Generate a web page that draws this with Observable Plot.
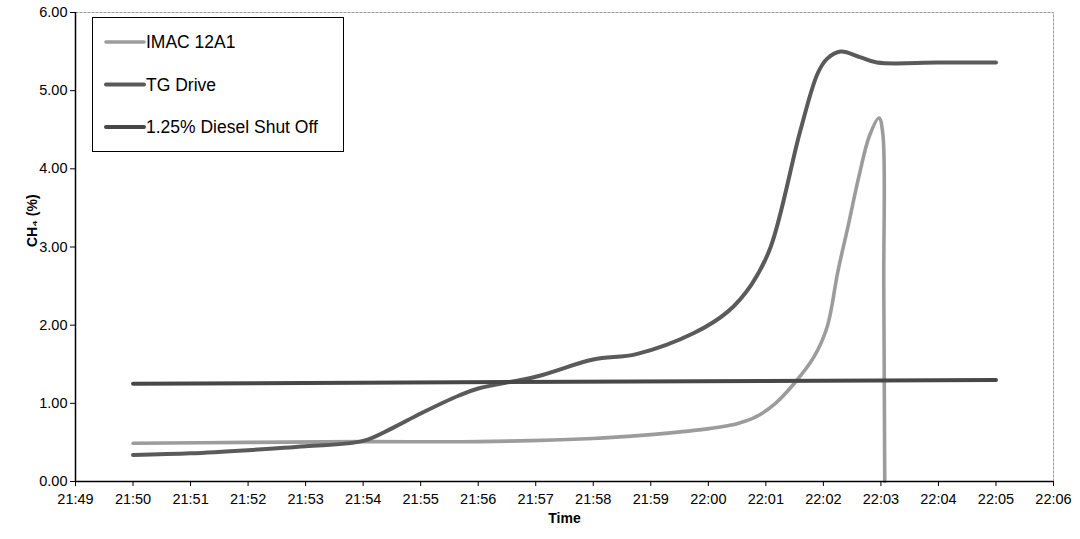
<!DOCTYPE html>
<html>
<head>
<meta charset="utf-8">
<script src="https://cdn.jsdelivr.net/npm/d3@7"></script>
<script src="https://cdn.jsdelivr.net/npm/@observablehq/plot@0.6"></script>
<style>
  html, body { margin: 0; padding: 0; background: #fff; }
  #chart svg { display: block; }
</style>
</head>
<body>
<div id="chart"></div>
<script>
// ---- data ----
const seriesNames = ["IMAC 12A1", "TG Drive", "1.25% Diesel Shut Off"];
const xTickLabels = ["21:49","21:50","21:51","21:52","21:53","21:54","21:55","21:56","21:57",
  "21:58","21:59","22:00","22:01","22:02","22:03","22:04","22:05","22:06"];
const yTicks = [0, 1, 2, 3, 4, 5, 6];

const imacTimes = ["21:50:00","21:52:00","21:54:00","21:56:00","21:58:00","21:58:50","21:59:50",
  "22:00:30","22:00:50","22:01:10","22:01:30","22:01:50","22:02:04","22:02:15","22:02:26",
  "22:02:37","22:02:48","22:02:58","22:03:02","22:03:03","22:03:04"];
const imacValues = [0.49,0.50,0.51,0.51,0.55,0.59,0.66,0.74,0.83,1.00,1.26,1.59,1.98,2.68,3.28,
  3.90,4.42,4.65,4.45,2.5,0.0];

const tgTimes = ["21:50:00","21:51:00","21:52:00","21:53:00","21:54:00","21:54:30","21:55:00",
  "21:55:40","21:56:00","21:57:00","21:58:00","21:58:45","21:59:45","22:00:20","22:00:45",
  "22:01:05","22:01:36","22:01:54","22:02:04","22:02:18","22:02:38","22:02:56",
  "22:04:00","22:05:00"];
const tgValues = [0.34,0.36,0.40,0.45,0.52,0.68,0.87,1.10,1.19,1.34,1.56,1.63,1.90,2.17,2.52,
  3.00,4.49,5.22,5.41,5.50,5.43,5.36,5.36,5.36];

const dieselTimes = ["21:50:00","22:05:00"];
const dieselValues = [1.25, 1.30];

// ---- build ----
const parseT = d3.utcParse("%H:%M:%S");
const parseHM = d3.utcParse("%H:%M");
const mk = (name, times, values) => times.map((t, i) => ({series: name, t: parseT(t), v: values[i]}));
const imac = mk(seriesNames[0], imacTimes, imacValues);
const tg = mk(seriesNames[1], tgTimes, tgValues);
const diesel = mk(seriesNames[2], dieselTimes, dieselValues);
const xTicks = xTickLabels.map(parseHM);

const style = {
  [seriesNames[0]]: {stroke: "#9c9c9c", width: 3.6},
  [seriesNames[1]]: {stroke: "#5a5a5a", width: 4},
  [seriesNames[2]]: {stroke: "#474747", width: 4}
};

const chart = Plot.plot({
  width: 1080,
  height: 539,
  marginLeft: 75,
  marginRight: 27,
  marginTop: 12,
  marginBottom: 58,
  style: {fontFamily: "'Liberation Sans', Arial, sans-serif", fontSize: "14.5px", color: "#000", background: "#fff"},
  x: {type: "utc", domain: [xTicks[0], xTicks[xTicks.length - 1]]},
  y: {domain: [0, 6]},
  marks: [
    Plot.frame({stroke: "#999", strokeDasharray: "3,1"}),
    Plot.line(imac, {x: "t", y: "v", stroke: style[seriesNames[0]].stroke, strokeWidth: style[seriesNames[0]].width, curve: "catmull-rom"}),
    Plot.line(tg, {x: "t", y: "v", stroke: style[seriesNames[1]].stroke, strokeWidth: style[seriesNames[1]].width, curve: "catmull-rom"}),
    Plot.line(diesel, {x: "t", y: "v", stroke: style[seriesNames[2]].stroke, strokeWidth: style[seriesNames[2]].width}),
    Plot.ruleY([0], {stroke: "#000", strokeWidth: 1.5}),
    Plot.ruleX([xTicks[0]], {stroke: "#000", strokeWidth: 1.5}),
    Plot.axisY({ticks: yTicks, tickFormat: d => d.toFixed(2), tickSize: 5, tickPadding: 3, label: null, fontSize: 14.5}),
    Plot.axisX({ticks: xTicks, tickFormat: d3.utcFormat("%H:%M"), tickSize: 5, tickPadding: 7, label: null, fontSize: 14.5}),
    Plot.text(["Time"], {text: d => d, frameAnchor: "bottom", dy: 41, fontWeight: "bold", fontSize: 14}),
    Plot.text(["CH₄ (%)"], {text: d => d, frameAnchor: "left", dx: -43, rotate: -90, fontWeight: "bold", fontSize: 14})
  ]
});

// ---- legend (inside plot area) ----
const svg = d3.select(chart);
const lg = svg.append("g")
  .attr("font-family", "'Liberation Sans', Arial, sans-serif")
  .attr("font-size", 17.5)
  .attr("text-anchor", "start");
lg.append("rect").attr("x", 92.5).attr("y", 17.5).attr("width", 251).attr("height", 134)
  .attr("fill", "#fff").attr("stroke", "#000").attr("stroke-width", 1);
seriesNames.forEach((name, i) => {
  const y = 42 + i * 42.5;
  lg.append("line").attr("x1", 106).attr("x2", 144).attr("y1", y).attr("y2", y)
    .attr("stroke", style[name].stroke).attr("stroke-width", style[name].width).attr("stroke-linecap", "round");
  lg.append("text").attr("x", 146).attr("y", y).attr("dy", "0.35em")
    .attr("text-anchor", "start").attr("fill", "#000").text(name);
});

document.getElementById("chart").appendChild(chart);
</script>
</body>
</html>
